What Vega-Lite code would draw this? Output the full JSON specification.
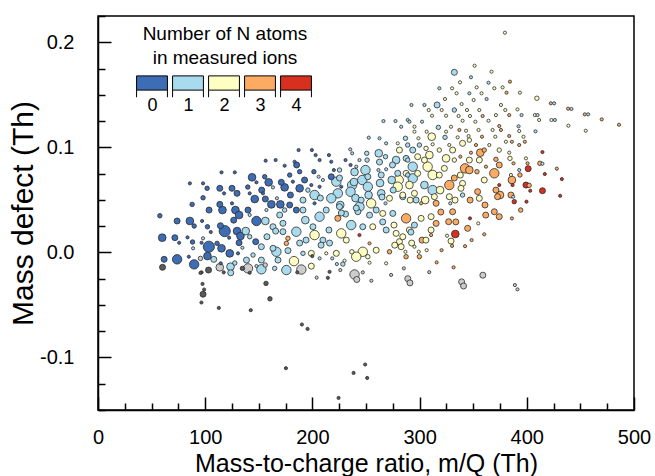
{
"$schema": "https://vega.github.io/schema/vega-lite/v6.json",
"width": 536, "height": 394,
"autosize": {"type": "none"},
"padding": {"left": 98, "top": 16, "right": 21, "bottom": 66},
"background": "white",
"config": {
 "font": "Liberation Sans",
 "view": {"stroke": "black", "strokeWidth": 1.5},
 "axis": {"grid": false, "domainColor": "black", "domainWidth": 1.5, "tickColor": "black", "tickWidth": 1.5, "labelColor": "black", "titleColor": "black", "labelFontSize": 20, "titleFontSize": 25, "titleFontWeight": "normal", "labelFont": "Liberation Sans", "titleFont": "Liberation Sans"}
},
"data": {"values": [
{"m":57.7,"d":0.0349,"n":"0","s":2},{"m":59.9,"d":0.014,"n":"0","s":4},{"m":61.7,"d":-0.0066,"n":"0","s":3},{"m":60.2,"d":-0.0142,"n":"x","s":3},
{"m":73.8,"d":0.0299,"n":"0","s":3},{"m":71.7,"d":0.014,"n":"0","s":3},{"m":75.7,"d":0.0092,"n":"0","s":1},{"m":73.8,"d":-0.0066,"n":"0","s":5},
{"m":85.7,"d":0.0657,"n":"0","s":1},{"m":87.8,"d":0.0457,"n":"0","s":2},{"m":85.7,"d":0.0299,"n":"0","s":4},{"m":89.7,"d":0.0251,"n":"0","s":2},{"m":83.5,"d":0.0143,"n":"0","s":1},{"m":88.2,"d":0.0099,"n":"0","s":2},{"m":88.7,"d":0.0039,"n":"1","s":1},{"m":89.7,"d":-0.0114,"n":"0","s":5},{"m":84.7,"d":-0.0041,"n":"0","s":1},
{"m":98.0,"d":0.0657,"n":"0","s":1},{"m":101.8,"d":0.061,"n":"0","s":2},{"m":98.0,"d":0.052,"n":"0","s":2},{"m":103.6,"d":0.0403,"n":"0","s":3},{"m":97.1,"d":0.0299,"n":"0","s":1},{"m":102.1,"d":0.0244,"n":"0","s":2},{"m":105.2,"d":0.0194,"n":"0","s":1},{"m":98.0,"d":0.0134,"n":"1","s":1},{"m":96.6,"d":0.0092,"n":"0","s":1},{"m":103.4,"d":0.0054,"n":"0","s":6},{"m":102.1,"d":-0.0035,"n":"0","s":4},{"m":108.0,"d":-0.0066,"n":"1","s":3},{"m":103.1,"d":-0.0168,"n":"x","s":3},{"m":96.6,"d":-0.019,"n":"x","s":1},{"m":95.6,"d":-0.0057,"n":"u","s":2},
{"m":115.2,"d":0.0762,"n":"0","s":1},{"m":113.6,"d":0.061,"n":"0","s":3},{"m":117.6,"d":0.0562,"n":"0","s":1},{"m":113.6,"d":0.0457,"n":"0","s":3},{"m":116.1,"d":0.0403,"n":"0","s":4},{"m":114.2,"d":0.0254,"n":"0","s":3},{"m":118.2,"d":0.0203,"n":"0","s":6},{"m":111.1,"d":0.0086,"n":"0","s":2},{"m":115.2,"d":0.0039,"n":"0","s":4},{"m":114.5,"d":-0.0104,"n":"0","s":1},{"m":113.6,"d":-0.0142,"n":"u","s":4},{"m":117.3,"d":-0.019,"n":"x","s":1},{"m":123.8,"d":-0.0194,"n":"1","s":3},{"m":123.6,"d":-0.0136,"n":"1","s":4},{"m":122.9,"d":-0.0009,"n":"0","s":4},{"m":122.3,"d":0.014,"n":"0","s":1},
{"m":127.6,"d":0.0762,"n":"0","s":1},{"m":125.0,"d":0.061,"n":"0","s":3},{"m":129.7,"d":0.0562,"n":"0","s":3},{"m":125.0,"d":0.0467,"n":"0","s":1},{"m":128.2,"d":0.0403,"n":"0","s":4},{"m":131.6,"d":0.0356,"n":"0","s":4},{"m":129.7,"d":0.0203,"n":"0","s":4},{"m":132.9,"d":0.0156,"n":"0","s":4},{"m":131.6,"d":0.0092,"n":"0","s":3},{"m":134.7,"d":0.0044,"n":"1","s":1},{"m":130.6,"d":-0.0009,"n":"0","s":1},{"m":134.7,"d":-0.0152,"n":"x","s":2},{"m":127.6,"d":-0.0101,"n":"1","s":2},
{"m":143.7,"d":0.0715,"n":"0","s":4},{"m":141.5,"d":0.0562,"n":"0","s":1},{"m":146.2,"d":0.0508,"n":"0","s":4},{"m":139.9,"d":0.0403,"n":"0","s":3},{"m":141.5,"d":0.0356,"n":"1","s":1},{"m":147.8,"d":0.0299,"n":"0","s":5},{"m":137.8,"d":0.0203,"n":"1","s":4},{"m":141.5,"d":0.0149,"n":"1","s":2},{"m":147.1,"d":0.0102,"n":"0","s":3},{"m":144.6,"d":-0.0025,"n":"1","s":2},{"m":138.5,"d":-0.0073,"n":"1","s":3},{"m":139.9,"d":-0.0152,"n":"u","s":5},{"m":141.5,"d":-0.0194,"n":"x","s":1},{"m":147.8,"d":-0.013,"n":"1","s":1},
{"m":155.5,"d":0.072,"n":"0","s":2},{"m":159.2,"d":0.0667,"n":"0","s":4},{"m":153.9,"d":0.0562,"n":"0","s":1},{"m":156.1,"d":0.0508,"n":"0","s":3},{"m":161.7,"d":0.0457,"n":"0","s":4},{"m":157.1,"d":0.0403,"n":"1","s":1},{"m":156.1,"d":0.0299,"n":"1","s":4},{"m":163.2,"d":0.0244,"n":"1","s":3},{"m":152.4,"d":0.0054,"n":"1","s":3},{"m":157.6,"d":0.0149,"n":"1","s":3},{"m":152.4,"d":-0.0073,"n":"1","s":3},{"m":152.4,"d":-0.0161,"n":"1","s":5},{"m":163.2,"d":0.0039,"n":"1","s":3},{"m":156.7,"d":-0.0295,"n":"x","s":2},
{"m":165.7,"d":0.0879,"n":"0","s":1},{"m":166.9,"d":0.0515,"n":"1","s":1},{"m":170.1,"d":0.0457,"n":"0","s":4},{"m":174.1,"d":0.0403,"n":"1","s":2},{"m":169.5,"d":0.0356,"n":"1","s":3},{"m":165.7,"d":0.0203,"n":"1","s":3},{"m":172.5,"d":0.0197,"n":"1","s":3},{"m":175.7,"d":0.0086,"n":"3","s":2},{"m":166.4,"d":0.0006,"n":"1","s":5},{"m":167.9,"d":-0.0073,"n":"1","s":3},{"m":164.8,"d":-0.0152,"n":"1","s":2},{"m":175.7,"d":-0.0168,"n":"1","s":5},
{"m":156.4,"d":0.0873,"n":"0","s":1},{"m":174.1,"d":0.0825,"n":"0","s":1},{"m":185.3,"d":0.0832,"n":"0","s":3},{"m":147.8,"d":0.0667,"n":"0","s":1},{"m":171.0,"d":0.0667,"n":"0","s":3},{"m":163.2,"d":0.0619,"n":"1","s":1},
{"m":187.1,"d":0.0974,"n":"0","s":1},{"m":199.5,"d":0.0974,"n":"0","s":1},{"m":203.0,"d":0.0926,"n":"0","s":1},{"m":215.4,"d":0.0926,"n":"0","s":1},{"m":235.3,"d":0.0981,"n":"1","s":1},{"m":237.1,"d":0.0943,"n":"1","s":1},{"m":252.6,"d":0.1092,"n":"1","s":1},{"m":266.3,"d":0.125,"n":"1","s":1},{"m":277.5,"d":0.125,"n":"1","s":1},{"m":288.9,"d":0.126,"n":"1","s":1},{"m":262.6,"d":0.1086,"n":"1","s":1},{"m":268.8,"d":0.1038,"n":"1","s":1},{"m":279.6,"d":0.1038,"n":"2","s":1},
{"m":250.7,"d":0.0943,"n":"1","s":2},{"m":261.9,"d":0.0943,"n":"1","s":4},{"m":268.2,"d":0.0911,"n":"1","s":2},{"m":278.1,"d":0.0879,"n":"1","s":4},{"m":288.9,"d":0.0879,"n":"1","s":2},{"m":243.9,"d":0.0879,"n":"1","s":1},{"m":230.9,"d":0.0879,"n":"0","s":1},{"m":235.6,"d":0.0832,"n":"0","s":1},{"m":217.6,"d":0.0863,"n":"0","s":1},{"m":220.0,"d":0.0784,"n":"0","s":1},{"m":201.4,"d":0.0768,"n":"0","s":2},{"m":188.1,"d":0.0768,"n":"0","s":2},
{"m":240.9,"d":0.0816,"n":"1","s":1},{"m":249.5,"d":0.0784,"n":"1","s":5},{"m":251.7,"d":0.072,"n":"1","s":3},{"m":246.5,"d":0.0689,"n":"1","s":5},{"m":261.6,"d":0.0784,"n":"1","s":1},{"m":264.2,"d":0.0737,"n":"1","s":3},{"m":279.6,"d":0.0753,"n":"1","s":3},{"m":280.5,"d":0.0689,"n":"2","s":5},{"m":288.9,"d":0.0737,"n":"1","s":2},{"m":217.6,"d":0.072,"n":"0","s":3},{"m":205.8,"d":0.072,"n":"1","s":1},{"m":209.8,"d":0.0689,"n":"1","s":1},{"m":222.3,"d":0.0673,"n":"1","s":5},{"m":226.9,"d":0.0625,"n":"0","s":1},{"m":237.1,"d":0.0641,"n":"1","s":5},{"m":235.6,"d":0.0577,"n":"1","s":5},{"m":223.7,"d":0.0562,"n":"1","s":5},{"m":217.6,"d":0.0515,"n":"1","s":5},{"m":206.7,"d":0.0625,"n":"0","s":1},{"m":199.0,"d":0.0641,"n":"0","s":1},{"m":195.8,"d":0.0593,"n":"1","s":2},{"m":188.1,"d":0.061,"n":"0","s":4},{"m":174.1,"d":0.0619,"n":"0","s":4},{"m":181.8,"d":0.0673,"n":"0","s":1},
{"m":191.2,"d":0.0498,"n":"1","s":3},{"m":202.0,"d":0.0546,"n":"1","s":5},{"m":202.0,"d":0.0467,"n":"0","s":1},{"m":178.8,"d":0.0451,"n":"0","s":3},{"m":185.0,"d":0.0403,"n":"0","s":3},{"m":191.2,"d":0.0403,"n":"1","s":3},{"m":212.9,"d":0.0403,"n":"1","s":3},{"m":206.7,"d":0.034,"n":"1","s":5},{"m":223.7,"d":0.0324,"n":"3","s":3},{"m":225.3,"d":0.0435,"n":"1","s":3},{"m":230.9,"d":0.0365,"n":"1","s":3},{"m":236.2,"d":0.026,"n":"1","s":5},{"m":243.9,"d":0.0435,"n":"1","s":5},{"m":245.5,"d":0.0498,"n":"1","s":3},{"m":254.8,"d":0.0467,"n":"2","s":5},{"m":259.5,"d":0.0403,"n":"1","s":3},{"m":265.6,"d":0.0371,"n":"2","s":3},{"m":268.2,"d":0.0467,"n":"1","s":1},{"m":271.9,"d":0.0515,"n":"2","s":3},{"m":279.6,"d":0.0625,"n":"2","s":5},{"m":284.3,"d":0.053,"n":"1","s":3},{"m":287.4,"d":0.0324,"n":"3","s":5},
{"m":200.5,"d":0.0244,"n":"1","s":3},{"m":202.0,"d":0.0165,"n":"2","s":5},{"m":215.4,"d":0.0213,"n":"1","s":3},{"m":209.8,"d":0.0117,"n":"1","s":3},{"m":226.9,"d":0.0181,"n":"2","s":5},{"m":243.9,"d":0.0165,"n":"4","s":1},{"m":247.0,"d":0.0244,"n":"1","s":3},{"m":256.3,"d":0.0244,"n":"2","s":3},{"m":268.8,"d":0.0213,"n":"1","s":3},{"m":281.2,"d":0.0102,"n":"2","s":3},{"m":185.0,"d":0.0197,"n":"1","s":5},{"m":177.2,"d":0.0134,"n":"3","s":2},{"m":172.5,"d":0.0277,"n":"1","s":3},{"m":199.0,"d":-0.0009,"n":"2","s":3},{"m":222.3,"d":-0.0009,"n":"2","s":3},{"m":247.0,"d":0.0006,"n":"2","s":5},{"m":253.3,"d":0.0086,"n":"3","s":1},
{"m":177.2,"d":0.0017,"n":"1","s":3},{"m":182.8,"d":-0.0083,"n":"2","s":5},{"m":189.7,"d":-0.0163,"n":"u","s":5},{"m":199.0,"d":-0.0131,"n":"2","s":3},{"m":191.2,"d":-0.0009,"n":"1","s":2},{"m":206.7,"d":-0.0057,"n":"1","s":1},{"m":218.5,"d":-0.0057,"n":"1","s":1},{"m":222.8,"d":-0.0111,"n":"1","s":1},{"m":226.0,"d":-0.0168,"n":"u","s":1},{"m":212.9,"d":-0.0009,"n":"2","s":1},{"m":230.0,"d":-0.0079,"n":"2","s":1},{"m":228.4,"d":-0.0111,"n":"1","s":2},{"m":236.8,"d":0.0006,"n":"2","s":2},{"m":240.9,"d":-0.0041,"n":"2","s":5},{"m":251.7,"d":-0.0041,"n":"2","s":2},{"m":253.3,"d":-0.0098,"n":"2","s":1},{"m":268.8,"d":-0.0104,"n":"2","s":1},{"m":271.9,"d":0.0006,"n":"3","s":2},{"m":286.8,"d":0.0006,"n":"2","s":1},{"m":287.4,"d":-0.0041,"n":"3","s":2},{"m":299.2,"d":0.0006,"n":"2","s":1},{"m":299.8,"d":-0.0041,"n":"3","s":2},{"m":285.3,"d":-0.0152,"n":"u","s":1},{"m":315.9,"d":-0.0095,"n":"3","s":1},{"m":331.7,"d":-0.0142,"n":"3","s":1},{"m":185.9,"d":-0.019,"n":"x","s":1},{"m":199.9,"d":-0.0035,"n":"x","s":1},
{"m":95.6,"d":-0.0195,"n":"x","s":1},{"m":97.5,"d":-0.03,"n":"x","s":1},{"m":98.0,"d":-0.0398,"n":"x","s":3},{"m":99.0,"d":-0.0353,"n":"x","s":1},{"m":96.5,"d":-0.0477,"n":"x","s":1},{"m":112.7,"d":-0.0528,"n":"x","s":1},{"m":142.5,"d":-0.055,"n":"x","s":1},{"m":160.4,"d":-0.0442,"n":"x","s":2},{"m":190.2,"d":-0.0686,"n":"x","s":1},{"m":195.5,"d":-0.0728,"n":"x","s":1},{"m":175.3,"d":-0.1102,"n":"x","s":1},{"m":249.2,"d":-0.1067,"n":"x","s":1},{"m":238.4,"d":-0.1147,"n":"x","s":1},{"m":251.1,"d":-0.1195,"n":"x","s":1},{"m":224.4,"d":-0.1385,"n":"x","s":1},{"m":214.4,"d":-0.0242,"n":"x","s":1},{"m":216.0,"d":-0.0185,"n":"x","s":1},
{"m":239.3,"d":-0.021,"n":"u","s":5},{"m":241.4,"d":-0.0258,"n":"u","s":3},{"m":255.0,"d":-0.027,"n":"u","s":1},{"m":247.0,"d":-0.019,"n":"u","s":1},{"m":289.0,"d":-0.025,"n":"u","s":3},{"m":291.0,"d":-0.029,"n":"u","s":3},{"m":273.4,"d":-0.0214,"n":"u","s":1},{"m":309.0,"d":-0.0188,"n":"u","s":1},{"m":339.2,"d":-0.028,"n":"u","s":3},{"m":341.0,"d":-0.032,"n":"u","s":3},{"m":359.0,"d":-0.0217,"n":"u","s":3},{"m":204.0,"d":-0.024,"n":"u","s":1},{"m":156.0,"d":-0.012,"n":"u","s":2},{"m":388.9,"d":-0.0311,"n":"u","s":1},{"m":391.3,"d":-0.0352,"n":"u","s":1},
{"m":379.6,"d":0.2091,"n":"2","s":1},{"m":351.3,"d":0.1777,"n":"2","s":1},{"m":332.4,"d":0.1714,"n":"1","s":3},{"m":367.1,"d":0.172,"n":"2","s":1},{"m":347.9,"d":0.1667,"n":"1","s":1},{"m":337.7,"d":0.1619,"n":"2","s":1},{"m":364.3,"d":0.1615,"n":"1","s":1},{"m":384.3,"d":0.1625,"n":"3","s":1},
{"m":318.4,"d":0.1562,"n":"1","s":1},{"m":330.3,"d":0.1562,"n":"2","s":1},{"m":353.2,"d":0.1571,"n":"2","s":1},{"m":369.7,"d":0.1562,"n":"2","s":1},{"m":377.4,"d":0.1571,"n":"2","s":1},{"m":381.1,"d":0.152,"n":"3","s":1},{"m":334.5,"d":0.1514,"n":"2","s":1},{"m":346.4,"d":0.1514,"n":"1","s":1},{"m":357.8,"d":0.1514,"n":"2","s":1},
{"m":323.7,"d":0.146,"n":"2","s":1},{"m":339.2,"d":0.1412,"n":"2","s":1},{"m":350.4,"d":0.145,"n":"2","s":1},{"m":362.5,"d":0.146,"n":"1","s":1},{"m":292.4,"d":0.1403,"n":"1","s":1},{"m":304.5,"d":0.1403,"n":"1","s":1},{"m":316.3,"d":0.1403,"n":"1","s":3},{"m":308.5,"d":0.1355,"n":"2","s":1},{"m":320.6,"d":0.1355,"n":"2","s":1},{"m":332.4,"d":0.1355,"n":"1","s":2},{"m":344.2,"d":0.1355,"n":"2","s":1},{"m":355.7,"d":0.1355,"n":"2","s":1},{"m":375.9,"d":0.1403,"n":"2","s":1},{"m":379.9,"d":0.1355,"n":"2","s":1},{"m":391.3,"d":0.1361,"n":"2","s":1},
{"m":383.6,"d":0.1307,"n":"3","s":1},{"m":371.2,"d":0.1307,"n":"2","s":1},{"m":358.8,"d":0.1298,"n":"3","s":1},{"m":347.0,"d":0.1298,"n":"2","s":1},{"m":336.4,"d":0.1298,"n":"2","s":1},{"m":324.7,"d":0.1301,"n":"2","s":1},{"m":311.6,"d":0.1301,"n":"2","s":1},{"m":290.5,"d":0.1244,"n":"1","s":1},{"m":302.3,"d":0.1244,"n":"1","s":1},{"m":317.5,"d":0.119,"n":"1","s":2},{"m":329.3,"d":0.1196,"n":"2","s":1},{"m":340.1,"d":0.1253,"n":"2","s":1},{"m":352.0,"d":0.1244,"n":"2","s":1},{"m":364.3,"d":0.1253,"n":"2","s":1},{"m":374.3,"d":0.1203,"n":"3","s":1},{"m":295.2,"d":0.1196,"n":"2","s":1},{"m":282.8,"d":0.1196,"n":"1","s":1},
{"m":306.6,"d":0.1149,"n":"2","s":1},{"m":295.2,"d":0.1149,"n":"2","s":1},{"m":324.7,"d":0.1149,"n":"2","s":1},{"m":337.1,"d":0.1165,"n":"3","s":1},{"m":343.3,"d":0.1158,"n":"2","s":1},{"m":355.0,"d":0.1165,"n":"2","s":1},{"m":368.1,"d":0.1165,"n":"2","s":1},{"m":375.9,"d":0.1165,"n":"3","s":1},{"m":383.6,"d":0.1108,"n":"3","s":1},
{"m":286.8,"d":0.1086,"n":"1","s":2},{"m":298.9,"d":0.1086,"n":"2","s":1},{"m":311.3,"d":0.1101,"n":"2","s":4},{"m":323.7,"d":0.1095,"n":"1","s":2},{"m":335.5,"d":0.1095,"n":"2","s":1},{"m":345.7,"d":0.1107,"n":"2","s":1},{"m":358.2,"d":0.1101,"n":"3","s":1},{"m":370.6,"d":0.1101,"n":"2","s":1},{"m":380.5,"d":0.1053,"n":"2","s":1},
{"m":288.9,"d":0.1022,"n":"1","s":2},{"m":299.8,"d":0.1022,"n":"1","s":2},{"m":312.2,"d":0.1029,"n":"2","s":1},{"m":327.7,"d":0.1022,"n":"2","s":1},{"m":340.1,"d":0.1038,"n":"2","s":3},{"m":352.6,"d":0.1022,"n":"3","s":1},{"m":365.0,"d":0.1022,"n":"2","s":1},
{"m":281.2,"d":0.0974,"n":"2","s":3},{"m":293.6,"d":0.0974,"n":"1","s":3},{"m":306.0,"d":0.099,"n":"2","s":2},{"m":330.8,"d":0.0974,"n":"2","s":3},{"m":347.9,"d":0.0949,"n":"3","s":1},{"m":356.6,"d":0.0949,"n":"3","s":4},{"m":287.4,"d":0.0895,"n":"1","s":3},{"m":298.2,"d":0.0911,"n":"2","s":3},{"m":309.1,"d":0.0927,"n":"2","s":4},{"m":324.7,"d":0.0895,"n":"2","s":4},{"m":338.0,"d":0.0911,"n":"3","s":1},{"m":342.4,"d":0.08,"n":"3","s":5},{"m":361.9,"d":0.0816,"n":"3","s":1},{"m":371.2,"d":0.0886,"n":"3","s":2},{"m":387.6,"d":0.0848,"n":"3","s":1},{"m":293.6,"d":0.0816,"n":"1","s":5},{"m":312.2,"d":0.0737,"n":"2","s":5},{"m":323.1,"d":0.08,"n":"2","s":3},{"m":369.7,"d":0.0753,"n":"3","s":5},{"m":392.9,"d":0.0784,"n":"1","s":1},
{"m":393.6,"d":0.152,"n":"2","s":1},{"m":409.4,"d":0.1467,"n":"2","s":2},{"m":422.4,"d":0.1419,"n":"3","s":1},{"m":425.5,"d":0.1419,"n":"1","s":1},{"m":438.5,"d":0.1368,"n":"3","s":1},{"m":441.6,"d":0.1365,"n":"1","s":1},{"m":454.1,"d":0.1314,"n":"3","s":1},{"m":457.2,"d":0.1314,"n":"1","s":1},{"m":395.1,"d":0.1307,"n":"1","s":1},{"m":407.5,"d":0.1307,"n":"2","s":1},{"m":410.0,"d":0.1307,"n":"1","s":1},{"m":469.9,"d":0.1266,"n":"3","s":1},{"m":486.0,"d":0.1215,"n":"3","s":1},{"m":411.5,"d":0.126,"n":"2","s":1},{"m":423.0,"d":0.126,"n":"2","s":1},{"m":426.2,"d":0.126,"n":"1","s":1},{"m":438.8,"d":0.1206,"n":"2","s":1},{"m":455.0,"d":0.1158,"n":"2","s":1},{"m":392.3,"d":0.12,"n":"1","s":1},{"m":392.9,"d":0.1155,"n":"2","s":1},{"m":408.1,"d":0.1152,"n":"1","s":1},{"m":396.9,"d":0.1101,"n":"2","s":1},{"m":386.1,"d":0.1053,"n":"3","s":1},{"m":398.2,"d":0.1053,"n":"3","s":1},
{"m":414.6,"d":0.0955,"n":"4","s":1},{"m":383.6,"d":0.0949,"n":"2","s":1},{"m":399.2,"d":0.0895,"n":"2","s":1},{"m":384.3,"d":0.0895,"n":"2","s":2},{"m":400.7,"d":0.0848,"n":"3","s":1},{"m":412.2,"d":0.0848,"n":"3","s":2},{"m":414.6,"d":0.0844,"n":"1","s":1},{"m":428.0,"d":0.0797,"n":"3","s":1},{"m":401.3,"d":0.0797,"n":"4","s":3},{"m":416.8,"d":0.0746,"n":"4","s":1},{"m":432.7,"d":0.0698,"n":"4","s":1},{"m":385.2,"d":0.0737,"n":"2","s":1},{"m":386.1,"d":0.0689,"n":"3","s":4},{"m":386.7,"d":0.0641,"n":"4","s":1},{"m":399.2,"d":0.0641,"n":"4","s":3},{"m":402.2,"d":0.0638,"n":"3","s":2},{"m":403.2,"d":0.0587,"n":"4","s":1},{"m":414.6,"d":0.0587,"n":"4","s":3},{"m":431.1,"d":0.0539,"n":"4","s":1},{"m":387.3,"d":0.053,"n":"1","s":1},
{"m":287.4,"d":0.0752,"n":"2","s":3},{"m":293.6,"d":0.0705,"n":"1","s":5},{"m":298.2,"d":0.0752,"n":"2","s":3},{"m":338.0,"d":0.0736,"n":"2","s":3},{"m":340.1,"d":0.0657,"n":"2","s":3},{"m":353.5,"d":0.0768,"n":"3","s":2},{"m":374.3,"d":0.0641,"n":"4","s":1},
{"m":284.3,"d":0.0546,"n":"2","s":3},{"m":295.2,"d":0.0562,"n":"2","s":3},{"m":296.7,"d":0.0498,"n":"1","s":3},{"m":301.4,"d":0.0467,"n":"3","s":1},{"m":312.2,"d":0.0593,"n":"1","s":5},{"m":313.8,"d":0.053,"n":"2","s":3},{"m":315.4,"d":0.0467,"n":"3","s":3},{"m":327.7,"d":0.0641,"n":"3","s":5},{"m":327.7,"d":0.053,"n":"2","s":3},{"m":328.6,"d":0.0467,"n":"1","s":1},{"m":330.8,"d":0.0387,"n":"3","s":3},{"m":338.6,"d":0.061,"n":"2","s":3},{"m":340.1,"d":0.0546,"n":"1","s":2},{"m":354.1,"d":0.0578,"n":"3","s":3},{"m":355.7,"d":0.0515,"n":"2","s":3},{"m":371.2,"d":0.0593,"n":"3","s":3},{"m":372.7,"d":0.053,"n":"3","s":3},{"m":385.2,"d":0.0546,"n":"3","s":3},{"m":388.3,"d":0.0483,"n":"4","s":2},{"m":369.7,"d":0.0387,"n":"3","s":3},{"m":374.3,"d":0.034,"n":"3","s":3},{"m":386.1,"d":0.0324,"n":"3","s":1},{"m":399.7,"d":0.0483,"n":"4","s":1},
{"m":295.2,"d":0.026,"n":"1","s":3},{"m":301.4,"d":0.0324,"n":"2","s":3},{"m":310.7,"d":0.034,"n":"2","s":3},{"m":315.4,"d":0.0276,"n":"3","s":3},{"m":327.1,"d":0.0292,"n":"3","s":3},{"m":347.0,"d":0.0324,"n":"4","s":1},{"m":344.8,"d":0.0229,"n":"3","s":3},{"m":354.7,"d":0.0276,"n":"2","s":1},{"m":360.3,"d":0.0172,"n":"3","s":1},{"m":333.3,"d":0.0175,"n":"4","s":4},{"m":325.6,"d":0.0159,"n":"2","s":1},{"m":329.3,"d":0.0108,"n":"2","s":3},{"m":310.7,"d":0.0213,"n":"2","s":3},{"m":310.7,"d":0.0165,"n":"3","s":1},{"m":302.3,"d":0.0117,"n":"3","s":3},{"m":290.5,"d":0.0213,"n":"2","s":3},{"m":284.3,"d":0.0149,"n":"2","s":3},{"m":282.8,"d":0.0054,"n":"2","s":3},{"m":295.2,"d":0.0054,"n":"2","s":1},{"m":330.3,"d":0.0062,"n":"3","s":1},{"m":342.4,"d":0.0059,"n":"3","s":1},
{"m":188.1,"d":0.0089,"n":"1","s":3},{"m":216.0,"d":0.0089,"n":"1","s":3},{"m":231.6,"d":0.0117,"n":"2","s":3},{"m":278.1,"d":0.0181,"n":"2","s":3},{"m":259.5,"d":0.0021,"n":"2","s":3},{"m":275.0,"d":0.0371,"n":"1","s":3},{"m":242.4,"d":0.0387,"n":"1","s":3},{"m":268.8,"d":0.0791,"n":"1","s":1},{"m":183.4,"d":0.0863,"n":"0","s":1},{"m":251.7,"d":0.0625,"n":"1","s":5},{"m":264.2,"d":0.0562,"n":"1","s":4},{"m":307.5,"d":0.0816,"n":"2","s":5},{"m":355.7,"d":0.0879,"n":"2","s":3},
{"m":225.3,"d":0.0784,"n":"1","s":2},{"m":225.3,"d":0.0708,"n":"1","s":3},{"m":226.0,"d":0.0451,"n":"1","s":4},{"m":227.0,"d":0.0375,"n":"1","s":3},
{"m":239.3,"d":0.0765,"n":"1","s":4},{"m":238.8,"d":0.067,"n":"1","s":4},{"m":240.2,"d":0.0517,"n":"1","s":4},{"m":240.9,"d":0.0422,"n":"1","s":3},
{"m":251.0,"d":0.0879,"n":"1","s":2},{"m":252.4,"d":0.0546,"n":"1","s":4},{"m":253.3,"d":0.0355,"n":"1","s":3},
{"m":262.6,"d":0.086,"n":"1","s":3},{"m":263.1,"d":0.066,"n":"1","s":4},{"m":264.9,"d":0.0527,"n":"1","s":3},{"m":265.6,"d":0.029,"n":"1","s":3},
{"m":274.7,"d":0.0832,"n":"1","s":3},{"m":274.0,"d":0.0689,"n":"1","s":4},{"m":275.4,"d":0.0593,"n":"1","s":3},{"m":276.1,"d":0.026,"n":"2","s":3},{"m":276.8,"d":0.0069,"n":"2","s":3},
{"m":290.5,"d":0.0641,"n":"2","s":4},{"m":291.2,"d":0.0498,"n":"2","s":3},{"m":291.9,"d":0.0193,"n":"1","s":3},{"m":292.6,"d":0.0089,"n":"2","s":3},
{"m":304.5,"d":0.0879,"n":"2","s":3},{"m":304.5,"d":0.0641,"n":"1","s":4},{"m":305.2,"d":0.0498,"n":"2","s":4},{"m":305.9,"d":0.0117,"n":"2","s":3},{"m":306.6,"d":0.0021,"n":"2","s":1},
{"m":318.4,"d":0.0974,"n":"2","s":2},{"m":318.4,"d":0.0736,"n":"2","s":3},{"m":319.1,"d":0.0593,"n":"2","s":4},{"m":319.8,"d":0.0384,"n":"3","s":3},{"m":320.5,"d":0.0021,"n":"3","s":1},
{"m":332.4,"d":0.0879,"n":"2","s":2},{"m":332.4,"d":0.0708,"n":"3","s":3},{"m":333.1,"d":0.0498,"n":"2","s":3},{"m":333.8,"d":0.029,"n":"3","s":3},
{"m":346.4,"d":0.1069,"n":"2","s":2},{"m":346.4,"d":0.0879,"n":"2","s":3},{"m":346.4,"d":0.0784,"n":"3","s":4},{"m":347.1,"d":0.0498,"n":"3","s":3},{"m":348.5,"d":0.0117,"n":"3","s":1},
{"m":360.3,"d":0.0974,"n":"3","s":2},{"m":360.3,"d":0.0689,"n":"2","s":3},{"m":361.0,"d":0.0451,"n":"3","s":3},{"m":361.7,"d":0.0355,"n":"3","s":3},
{"m":374.3,"d":0.0974,"n":"2","s":2},{"m":374.3,"d":0.0832,"n":"3","s":3},{"m":375.0,"d":0.0546,"n":"3","s":4},
{"m":392.9,"d":0.1022,"n":"3","s":1},{"m":393.6,"d":0.0737,"n":"3","s":2},{"m":394.3,"d":0.0403,"n":"3","s":2},
{"m":178.8,"d":0.0736,"n":"0","s":2},{"m":179.5,"d":0.0546,"n":"0","s":3},{"m":192.7,"d":0.0689,"n":"0","s":3},{"m":193.4,"d":0.0307,"n":"1","s":4},{"m":194.1,"d":0.0117,"n":"1","s":3},{"m":206.7,"d":0.0879,"n":"0","s":1},{"m":207.4,"d":0.0517,"n":"1","s":3},{"m":208.1,"d":0.0069,"n":"1","s":3},{"m":152.7,"d":0.0593,"n":"0","s":3},{"m":139.7,"d":0.0622,"n":"0","s":2},{"m":126.6,"d":0.0307,"n":"0","s":3}
]},
"mark": {"type": "point", "filled": true, "stroke": "#2b2b2b", "strokeWidth": 0.8, "opacity": 1, "fillOpacity": 1},
"encoding": {
 "x": {"field": "m", "type": "quantitative", "scale": {"domain": [0, 500], "nice": false, "zero": false},
  "axis": {"values": [0,25,50,75,100,125,150,175,200,225,250,275,300,325,350,375,400,425,450,475,500],
   "tickSize": {"condition": {"test": "datum.value % 100 === 0", "value": -13}, "value": -7},
   "labelExpr": "datum.value % 100 === 0 ? datum.label : ''", "labelOverlap": false, "labelFlush": false,
   "labelPadding": 30, "title": "Mass-to-charge ratio, m/Q (Th)", "titlePadding": -2}},
 "y": {"field": "d", "type": "quantitative", "scale": {"domain": [-0.15, 0.225], "nice": false, "zero": false},
  "axis": {"values": [-0.15,-0.125,-0.1,-0.075,-0.05,-0.025,0,0.025,0.05,0.075,0.1,0.125,0.15,0.175,0.2,0.225],
   "tickSize": {"condition": {"test": "abs(datum.value*10 - round(datum.value*10)) < 0.000001", "value": -13}, "value": -7},
   "labelExpr": "abs(datum.value*10 - round(datum.value*10)) < 0.000001 ? replace(format(datum.value, '.1f'), '\u2212', '-') : ''",
   "labelOverlap": false, "labelFlush": false, "labelPadding": 37, "title": "Mass defect (Th)", "titleFontSize": 30, "titlePadding": 1}},
 "color": {"field": "n", "type": "nominal",
  "scale": {"domain": ["0","1","2","3","4","u","x"], "range": ["#3d6db5","#a9dbee","#fefec2","#fbac62","#d7301f","#cccccc","#5a5a5a"]},
  "legend": {"values": ["0","1","2","3","4"], "orient": "none", "legendX": 38, "legendY": 9, "direction": "horizontal", "columns": 5,
   "columnPadding": 0, "rowPadding": 0, "padding": 0,
   "title": ["Number of N atoms", "in measured ions"], "titleFontSize": 19, "titleFontWeight": "normal", "titleFont": "Liberation Sans", "titleColor": "black",
   "titleAnchor": "middle", "titleAlign": "center", "titleLineHeight": 24, "titlePadding": -1,
   "symbolType": "M-1,-0.461H1V0.461H-1Z M-1,0.461V0.922 M1,0.461V0.922", "symbolSize": 953, "symbolStrokeColor": "black", "symbolStrokeWidth": 1, "symbolOpacity": 1,
   "labelFontSize": 18, "labelFont": "Liberation Sans", "labelColor": "black", "labelOffset": 0,
   "encode": {"labels": {"update": {"dx": {"value": -15.4}, "dy": {"value": 23}, "align": {"value": "center"}}},
              "symbols": {"update": {"stroke": {"value": "black"}, "strokeWidth": {"value": 1}}}}}},
 "size": {"field": "s", "type": "quantitative", "scale": {"type": "pow", "exponent": 2, "domain": [1, 6], "range": [10, 125]}, "legend": null},
 "order": {"field": "s", "sort": "descending"}
}
}
